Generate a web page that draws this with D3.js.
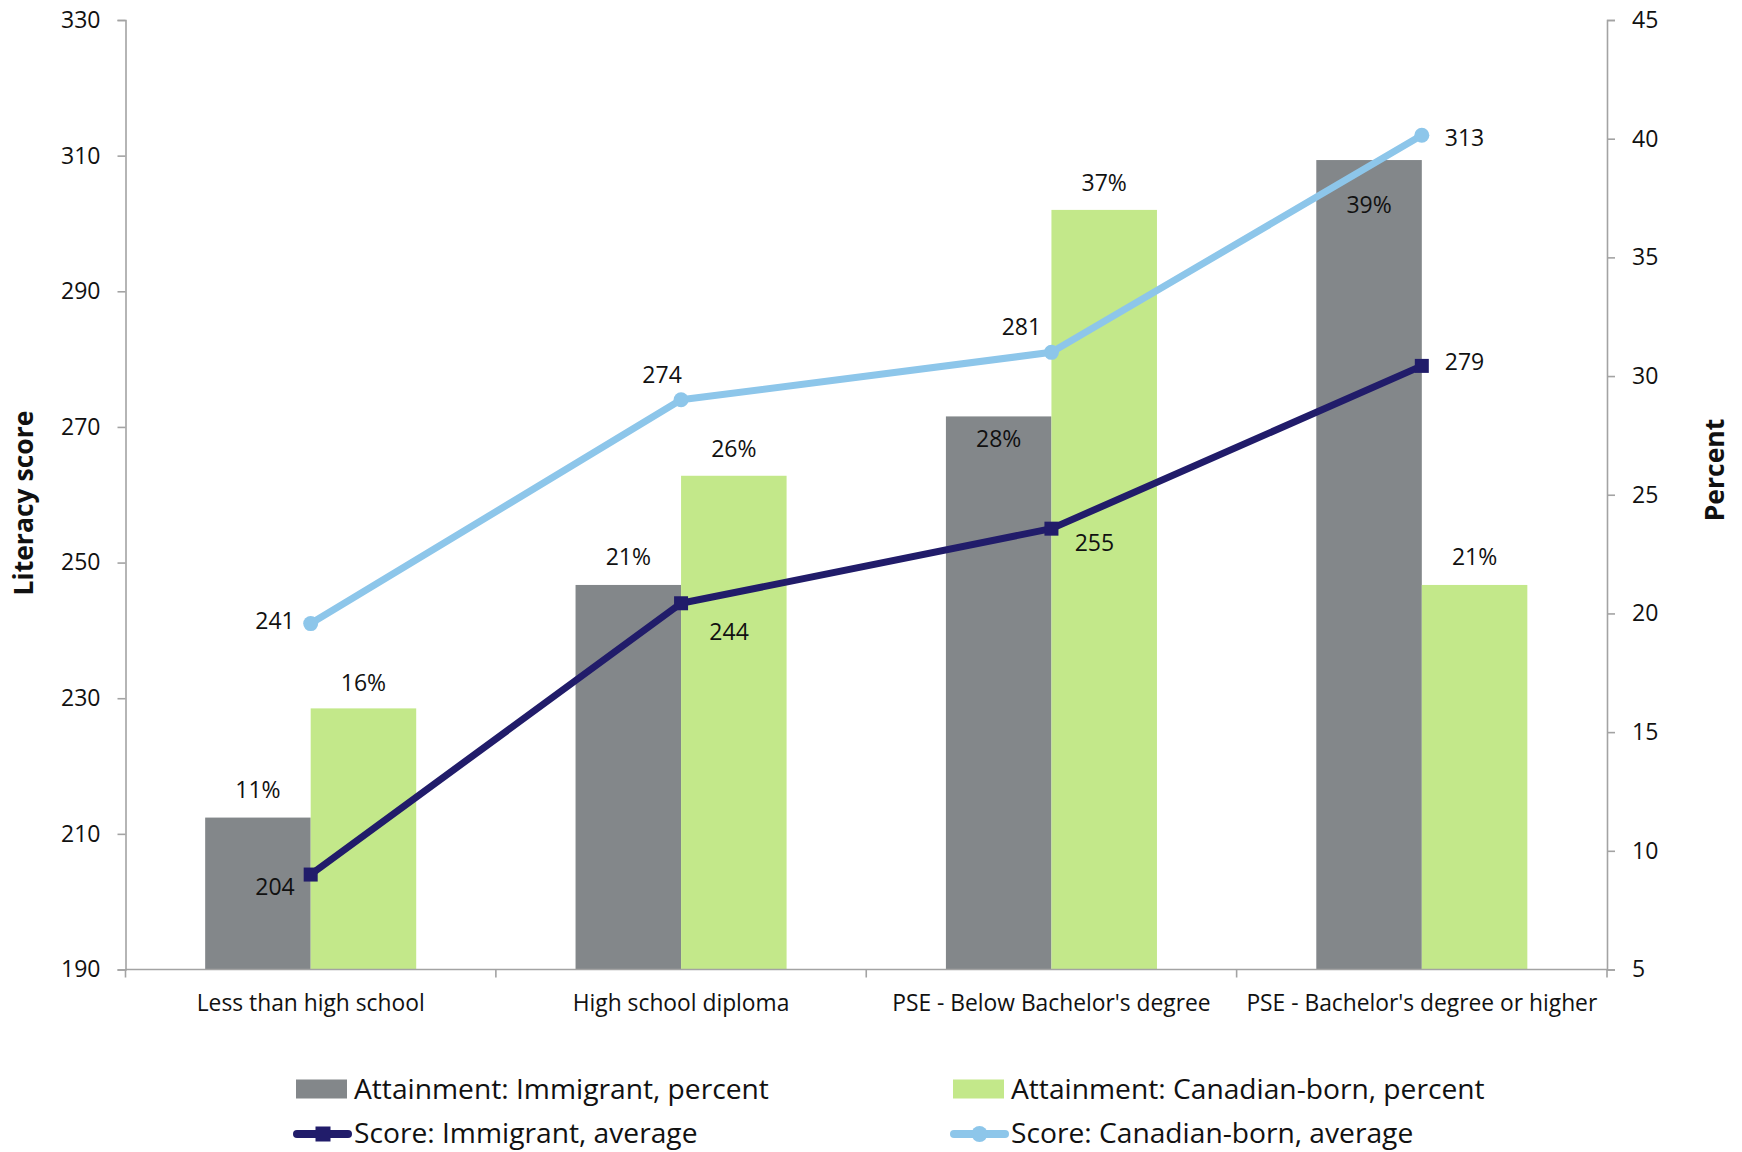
<!DOCTYPE html>
<html>
<head>
<meta charset="utf-8">
<script src="https://cdn.jsdelivr.net/npm/d3@7"></script>
<style>
  html, body { margin: 0; padding: 0; background: #fff; }
  svg { display: block; font-family: "Open Sans", "Noto Sans", sans-serif; }
</style>
</head>
<body>
<svg id="chart" width="1742" height="1152"></svg>
<script>
// Education categories
const categories = [
  "Less than high school",
  "High school diploma",
  "PSE - Below Bachelor's degree",
  "PSE - Bachelor's degree or higher"
];

// Educational attainment (percent of each population)
const attainImmigrant = [11.4, 21.2, 28.3, 39.1];
const attainCanadian  = [16.0, 25.8, 37.0, 21.2];

// Average literacy scores
const scoreImmigrant = [204, 244, 255, 279];
const scoreCanadian  = [241, 274, 281, 313];

// Axis ticks
const scoreTicks   = [190, 210, 230, 250, 270, 290, 310, 330];
const percentTicks = [5, 10, 15, 20, 25, 30, 35, 40, 45];

// Series names for the legend
const seriesNames = [
  "Attainment: Immigrant, percent",
  "Attainment: Canadian-born, percent",
  "Score: Immigrant, average",
  "Score: Canadian-born, average"
];

const colors = {
  immigrantBar: "#83878a",
  canadianBar: "#c3e88a",
  immigrantLine: "#211c6a",
  canadianLine: "#8dc6ea",
  axis: "#a3a3a3",
  text: "#111"
};

const svg = d3.select("#chart");
const plot = { left: 125.5, right: 1607, top: 20, bottom: 969.5 };

const x0 = d3.scaleBand().domain(categories).range([plot.left, plot.right]).padding(0);
const x1 = d3.scaleBand().domain(["imm", "can"]).range([0, x0.bandwidth()])
  .paddingInner(0).paddingOuter(0.755);
const yScore = d3.scaleLinear().domain([190, 330]).range([plot.bottom, plot.top]);
const yPct = d3.scaleLinear().domain([5, 45]).range([plot.bottom, plot.top]);
const cx = c => x0(c) + x0.bandwidth() / 2;

const tickFont = 23;

// Bars
const barSeries = [
  { key: "imm", values: attainImmigrant, color: colors.immigrantBar },
  { key: "can", values: attainCanadian, color: colors.canadianBar }
];
barSeries.forEach(s => {
  svg.append("g").selectAll("rect").data(s.values).join("rect")
    .attr("x", (d, i) => x0(categories[i]) + x1(s.key))
    .attr("width", x1.bandwidth())
    .attr("y", d => yPct(d))
    .attr("height", d => plot.bottom - yPct(d))
    .attr("fill", s.color);
});

// Axes
const axisLeft = d3.axisLeft(yScore).tickValues(scoreTicks).tickSize(8).tickPadding(17);
const gL = svg.append("g").attr("transform", `translate(${plot.left},0)`).call(axisLeft);
const axisRight = d3.axisRight(yPct).tickValues(percentTicks).tickSize(8).tickPadding(17);
const gR = svg.append("g").attr("transform", `translate(${plot.right},0)`).call(axisRight);

const axisBottom = d3.axisBottom(x0).tickSize(0).tickPadding(0).tickFormat("");
const gB = svg.append("g").attr("transform", `translate(0,${plot.bottom})`).call(axisBottom);
// category boundary ticks
gB.selectAll("line.bound").data(d3.range(categories.length + 1)).join("line")
  .attr("class", "bound")
  .attr("x1", i => plot.left + i * x0.bandwidth())
  .attr("x2", i => plot.left + i * x0.bandwidth())
  .attr("y1", 0).attr("y2", 8);

[gL, gR, gB].forEach(g => {
  g.selectAll("path.domain").attr("stroke", colors.axis).attr("stroke-width", 1.6);
  g.selectAll("line").attr("stroke", colors.axis).attr("stroke-width", 1.6);
  g.selectAll("text").attr("font-size", tickFont).attr("fill", colors.text)
    .attr("font-family", "'Open Sans', sans-serif");
});
gB.select("path.domain").attr("d", `M${plot.left},0H${plot.right}`);

// Category labels
svg.append("g").selectAll("text").data(categories).join("text")
  .attr("x", d => cx(d))
  .attr("y", 1011)
  .attr("text-anchor", "middle")
  .attr("font-size", 22.8)
  .attr("fill", colors.text)
  .text(d => d);

// Axis titles
svg.append("text")
  .attr("transform", `translate(33,503) rotate(-90)`)
  .attr("text-anchor", "middle")
  .attr("font-size", 26.5).attr("font-weight", "bold").attr("fill", colors.text)
  .text("Literacy score");
svg.append("text")
  .attr("transform", `translate(1724,470) rotate(-90)`)
  .attr("text-anchor", "middle")
  .attr("font-size", 26.5).attr("font-weight", "bold").attr("fill", colors.text)
  .text("Percent");

// Lines
const lineGen = vals => d3.line()
  .x((d, i) => cx(categories[i]))
  .y(d => yScore(d))(vals);

svg.append("path").attr("d", lineGen(scoreCanadian))
  .attr("fill", "none").attr("stroke", colors.canadianLine)
  .attr("stroke-width", 7).attr("stroke-linejoin", "round");
svg.append("g").selectAll("circle").data(scoreCanadian).join("circle")
  .attr("cx", (d, i) => cx(categories[i]))
  .attr("cy", d => yScore(d))
  .attr("r", 7.5).attr("fill", colors.canadianLine);

svg.append("path").attr("d", lineGen(scoreImmigrant))
  .attr("fill", "none").attr("stroke", colors.immigrantLine)
  .attr("stroke-width", 7).attr("stroke-linejoin", "round");
svg.append("g").selectAll("rect").data(scoreImmigrant).join("rect")
  .attr("x", (d, i) => cx(categories[i]) - 7)
  .attr("y", d => yScore(d) - 7)
  .attr("width", 14).attr("height", 14)
  .attr("fill", colors.immigrantLine);

// Data labels
const labelFont = 23;
const pctFmt = d => d3.format(".0f")(d) + "%";

// percent labels: offset of baseline from bar top (negative = above)
const immPctOffset = [-20, -20, 31, 53];
const canPctOffset = [-17, -19, -19, -20];
function pctLabels(values, key, offsets) {
  svg.append("g").selectAll("text").data(values).join("text")
    .attr("x", (d, i) => x0(categories[i]) + x1(key) + x1.bandwidth() / 2)
    .attr("y", (d, i) => yPct(d) + offsets[i])
    .attr("text-anchor", "middle")
    .attr("font-size", labelFont).attr("fill", colors.text)
    .text(pctFmt);
}
pctLabels(attainImmigrant, "imm", immPctOffset);
pctLabels(attainCanadian, "can", canPctOffset);

// score labels: [dx, dy(baseline), anchor]
const canScorePos = [[-16, 5, "end"], [-19, -17, "middle"], [-30, -17, "middle"], [23, 11, "start"]];
const immScorePos = [[-16, 20, "end"], [48, 37, "middle"], [43, 22, "middle"], [23, 4, "start"]];
function scoreLabels(values, pos) {
  svg.append("g").selectAll("text").data(values).join("text")
    .attr("x", (d, i) => cx(categories[i]) + pos[i][0])
    .attr("y", d => yScore(d))
    .attr("dy", (d, i) => pos[i][1])
    .attr("text-anchor", (d, i) => pos[i][2])
    .attr("font-size", labelFont).attr("fill", colors.text)
    .text(d => d);
}
scoreLabels(scoreCanadian, canScorePos);
scoreLabels(scoreImmigrant, immScorePos);

// Legend
const legend = svg.append("g").attr("font-size", 28.2).attr("fill", colors.text);
const legendItems = [
  { name: seriesNames[0], type: "bar", color: colors.immigrantBar, x: 296, y: 1089 },
  { name: seriesNames[1], type: "bar", color: colors.canadianBar, x: 953, y: 1089 },
  { name: seriesNames[2], type: "square", color: colors.immigrantLine, x: 296, y: 1134 },
  { name: seriesNames[3], type: "circle", color: colors.canadianLine, x: 953, y: 1134 }
];
legendItems.forEach(it => {
  const g = legend.append("g").attr("transform", `translate(${it.x},${it.y})`);
  if (it.type === "bar") {
    g.append("rect").attr("x", 0).attr("y", -9.5).attr("width", 51).attr("height", 19).attr("fill", it.color);
  } else {
    g.append("line").attr("x1", 1).attr("x2", 52).attr("y1", 0).attr("y2", 0)
      .attr("stroke", it.color).attr("stroke-width", 8).attr("stroke-linecap", "round");
    if (it.type === "square") {
      g.append("rect").attr("x", 19.5).attr("y", -7.5).attr("width", 15).attr("height", 15).attr("fill", it.color);
    } else {
      g.append("circle").attr("cx", 26.5).attr("cy", 0).attr("r", 8).attr("fill", it.color);
    }
  }
  g.append("text").attr("x", 58).attr("y", it.type === "bar" ? 10 : 8.5).text(it.name);
});
</script>
</body>
</html>
